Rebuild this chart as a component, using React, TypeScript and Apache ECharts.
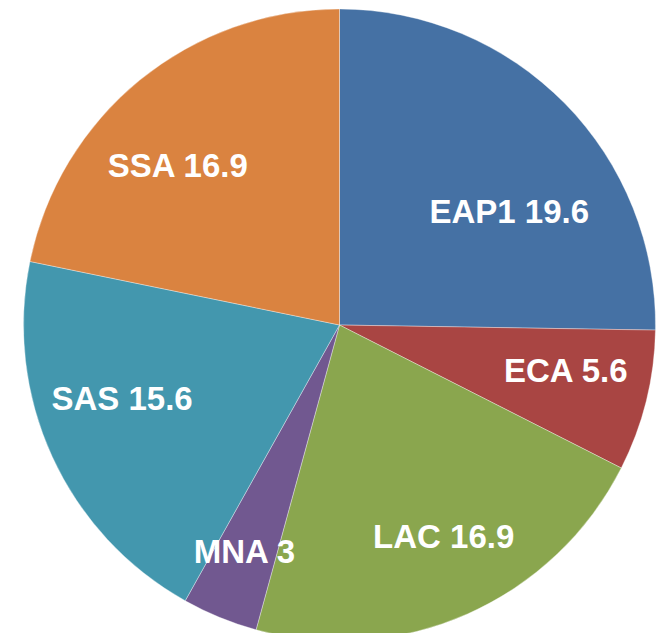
import React, { useEffect, useRef } from "react";
import * as echarts from "echarts";

const categories = ["EAP1", "ECA", "LAC", "MNA", "SAS", "SSA"];
const values = [19.6, 5.6, 16.9, 3, 15.6, 16.9];
const colors = ["#4571A4", "#A94543", "#8AA64E", "#715890", "#4397AE", "#DA8340"];
// label offsets (px) relative to ECharts' default inside position
const labelOffsets: [number, number][] = [
  [55, -1],
  [70, 7],
  [39, 64],
  [-34, 78],
  [-71, 7],
  [-60, -35],
];

export default function App() {
  const ref = useRef<HTMLDivElement>(null);
  useEffect(() => {
    if (!ref.current) return;
    const chart = echarts.init(ref.current, undefined, { renderer: "svg" });
    chart.setOption({
      animation: false,
      backgroundColor: "#ffffff",
      series: [
        {
          type: "pie",
          center: [339.5, 325],
          radius: [0, 316],
          startAngle: 90,
          clockwise: true,
          avoidLabelOverlap: false,
          itemStyle: { borderColor: "rgba(255,255,255,0.35)", borderWidth: 1 },
          label: {
            show: true,
            position: "inside",
            formatter: (p: any) => `${p.name} ${p.value}`,
            color: "#ffffff",
            fontFamily: "'Liberation Sans', Arial, sans-serif",
            fontSize: 33,
            fontWeight: "bold",
          },
          labelLine: { show: false },
          emphasis: { disabled: true },
          data: categories.map((c, i) => ({
            name: c,
            value: values[i],
            itemStyle: { color: colors[i] },
            label: { offset: labelOffsets[i] },
          })),
        },
      ],
    });
    return () => chart.dispose();
  }, []);
  return (
    <div
      ref={ref}
      style={{ position: "fixed", left: 0, top: 0, width: 658, height: 633 }}
    />
  );
}
